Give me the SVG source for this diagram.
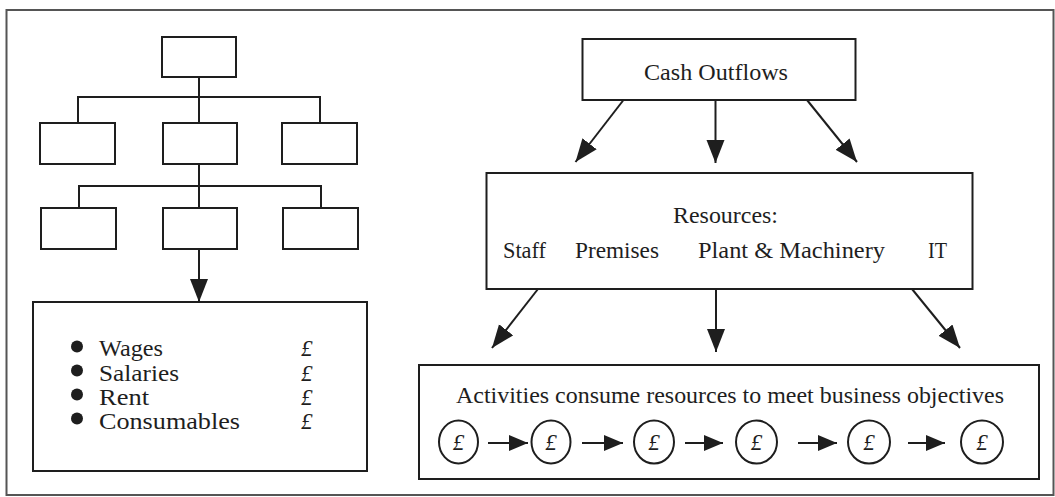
<svg xmlns="http://www.w3.org/2000/svg" width="1055" height="497" viewBox="0 0 1055 497">
<style>
.bx{fill:none;stroke:#1e1e1e;stroke-width:2}
.ln{fill:none;stroke:#1e1e1e;stroke-width:2}
.t{font-family:"Liberation Serif","Times New Roman",serif;fill:#1e1e1e}
.r{font-size:24px}
.l{font-size:23px}
.p{font-family:"Liberation Serif","Times New Roman",serif;font-style:italic;fill:#1e1e1e;font-size:23px}
</style>
<defs>
<marker id="ah" markerUnits="userSpaceOnUse" markerWidth="24" markerHeight="20" refX="23" refY="9" orient="auto">
<path d="M0,0 L23,9 L0,18 z" fill="#1e1e1e"/>
</marker>
<marker id="as" markerUnits="userSpaceOnUse" markerWidth="20" markerHeight="18" refX="19" refY="8" orient="auto">
<path d="M0,0 L19,8 L0,16 z" fill="#1e1e1e"/>
</marker>
</defs>
<rect width="1055" height="497" fill="#ffffff"/>
<rect x="6.5" y="10" width="1047" height="485" fill="none" stroke="#555" stroke-width="2"/>

<g id="org-top"><rect class="bx" x="162" y="37" width="74" height="40"/></g>
<g id="org-r2-left"><rect class="bx" x="40" y="123" width="75" height="41"/></g>
<g id="org-r2-mid"><rect class="bx" x="163" y="123" width="74" height="41"/></g>
<g id="org-r2-right"><rect class="bx" x="282" y="123" width="75" height="41"/></g>
<g id="org-r3-left"><rect class="bx" x="41" y="208" width="75" height="41"/></g>
<g id="org-r3-mid"><rect class="bx" x="163" y="208" width="74" height="41"/></g>
<g id="org-r3-right"><rect class="bx" x="283" y="208" width="75" height="41"/></g>

<g id="costs">
<rect class="bx" x="33" y="302" width="334" height="169"/>
<circle cx="77" cy="346.5" r="6" fill="#1e1e1e"/>
<circle cx="77" cy="370.5" r="6" fill="#1e1e1e"/>
<circle cx="77" cy="394.5" r="6" fill="#1e1e1e"/>
<circle cx="77" cy="418.5" r="6" fill="#1e1e1e"/>
<text class="t l" x="99" y="356" textLength="64" lengthAdjust="spacingAndGlyphs">Wages</text>
<text class="t l" x="99" y="380.5" textLength="80" lengthAdjust="spacingAndGlyphs">Salaries</text>
<text class="t l" x="99" y="405" textLength="50" lengthAdjust="spacingAndGlyphs">Rent</text>
<text class="t l" x="99" y="429" textLength="141" lengthAdjust="spacingAndGlyphs">Consumables</text>
<text class="p" x="301" y="356" font-size="24">£</text>
<text class="p" x="301" y="380.5" font-size="24">£</text>
<text class="p" x="301" y="405" font-size="24">£</text>
<text class="p" x="301" y="429" font-size="24">£</text>
</g>

<g id="cash-outflows">
<rect class="bx" x="582.5" y="39" width="273" height="61"/>
<text class="t r" x="644" y="80" textLength="144" lengthAdjust="spacingAndGlyphs">Cash Outflows</text>
</g>

<g id="resources">
<rect class="bx" x="486.5" y="173" width="486" height="116"/>
<text class="t r" x="673" y="223" textLength="105" lengthAdjust="spacingAndGlyphs">Resources:</text>
<text class="t r" x="503" y="258" textLength="43" lengthAdjust="spacingAndGlyphs">Staff</text>
<text class="t r" x="575" y="258" textLength="84" lengthAdjust="spacingAndGlyphs">Premises</text>
<text class="t r" x="698" y="258" textLength="187" lengthAdjust="spacingAndGlyphs">Plant &amp; Machinery</text>
<text class="t r" x="928" y="258" textLength="19" lengthAdjust="spacingAndGlyphs">IT</text>
</g>

<g id="activities">
<rect class="bx" x="419" y="365" width="620" height="114"/>
<text class="t r" x="456" y="403" textLength="548" lengthAdjust="spacingAndGlyphs">Activities consume resources to meet business objectives</text>
<g id="act-1"><ellipse class="bx" cx="458.5" cy="442" rx="19.5" ry="21.5"/><text class="p" x="458.5" y="450" text-anchor="middle">£</text></g>
<g id="act-2"><ellipse class="bx" cx="551" cy="442" rx="19.5" ry="21.5"/><text class="p" x="551" y="450" text-anchor="middle">£</text></g>
<g id="act-3"><ellipse class="bx" cx="654" cy="442" rx="20" ry="21.5"/><text class="p" x="654" y="450" text-anchor="middle">£</text></g>
<g id="act-4"><ellipse class="bx" cx="756.5" cy="442" rx="20.5" ry="21.5"/><text class="p" x="756.5" y="450" text-anchor="middle">£</text></g>
<g id="act-5"><ellipse class="bx" cx="869" cy="442" rx="21" ry="21.5"/><text class="p" x="869" y="450" text-anchor="middle">£</text></g>
<g id="act-6"><ellipse class="bx" cx="982" cy="442" rx="21" ry="21.5"/><text class="p" x="982" y="450" text-anchor="middle">£</text></g>
</g>

<g id="connectors">
<path class="ln" d="M199,77 V97 M78,123 V97 H320 V123 M199,97 V123"/>
<path class="ln" d="M199,164 V186 M79,208 V186 H321 V208 M199,186 V208"/>
<line class="ln" x1="199" y1="249" x2="199" y2="302" marker-end="url(#ah)"/>
<line class="ln" x1="623.5" y1="100" x2="575.5" y2="162" marker-end="url(#ah)"/>
<line class="ln" x1="715.5" y1="100" x2="715.5" y2="163" marker-end="url(#ah)"/>
<line class="ln" x1="807" y1="100" x2="857" y2="162" marker-end="url(#ah)"/>
<line class="ln" x1="538" y1="289" x2="492" y2="348" marker-end="url(#ah)"/>
<line class="ln" x1="716" y1="289" x2="716" y2="352" marker-end="url(#ah)"/>
<line class="ln" x1="912" y1="289" x2="960" y2="348" marker-end="url(#ah)"/>
<line class="ln" x1="488" y1="443" x2="528" y2="443" marker-end="url(#as)"/>
<line class="ln" x1="582" y1="443" x2="623" y2="443" marker-end="url(#as)"/>
<line class="ln" x1="685" y1="443" x2="723" y2="443" marker-end="url(#as)"/>
<line class="ln" x1="798" y1="443" x2="837" y2="443" marker-end="url(#as)"/>
<line class="ln" x1="908" y1="443" x2="945" y2="443" marker-end="url(#as)"/>
</g>
</svg>
